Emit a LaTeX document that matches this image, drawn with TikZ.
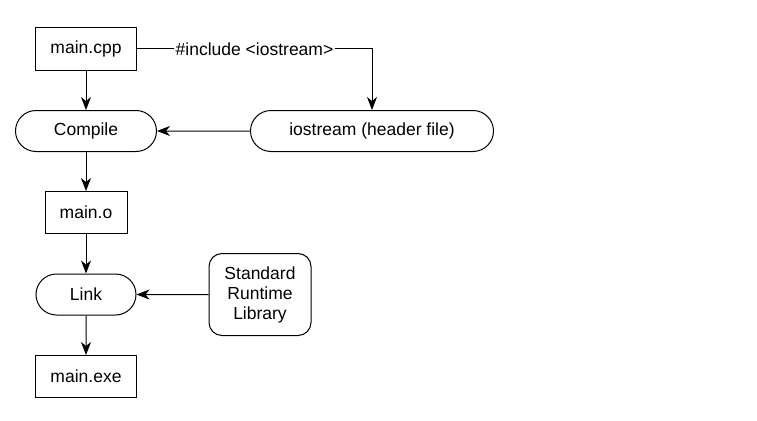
\documentclass[tikz,border=0pt]{standalone}
\usepackage{fontspec}
\setmainfont{Liberation Sans}
\usetikzlibrary{arrows.meta, positioning, shapes.misc}

\begin{document}
\begin{tikzpicture}[
    x=1pt, y=-1pt,
    file/.style={rectangle, draw, line width=1pt, minimum height=42pt, inner sep=0pt},
    tool/.style={rounded rectangle, draw, line width=1pt, minimum height=41pt, inner sep=0pt},
    lib/.style={rectangle, rounded corners=13pt, draw, line width=1pt, minimum width=102pt, minimum height=82pt, align=center, inner sep=0pt},
    link/.style={-{Stealth[length=13pt, width=10pt, inset=4pt]}, line width=1pt},
    every node/.style={font=\fontsize{17.5}{20}\selectfont}
    ]
    \useasboundingbox (0,0) rectangle (757,420);

    % Source file
    \node[file, minimum width=101pt] (cpp) at (86,49) {main.cpp};

    % Compile step
    \node[tool, minimum width=141pt] (compile) at (86,131) {Compile};
    \draw[link] (cpp) -- (compile);

    % Header file
    \node[tool, minimum width=243pt] (header) at (372,131) {iostream (header file)};
    \draw[link] (cpp) -| (header) node[pos=0.25, fill=white, inner sep=2pt] {\#include <iostream>};
    \draw[link] (header) -- (compile);

    % Object file
    \node[file, minimum width=82pt] (obj) at (86,212.5) {main.o};
    \draw[link] (compile) -- (obj);

    % Link step
    \node[tool, minimum width=100pt] (link) at (86,294.5) {Link};
    \draw[link] (obj) -- (link);

    % Runtime library
    \node[lib] (runtime) at (260,294.5) {Standard\\Runtime\\Library};
    \draw[link] (runtime) -- (link);

    % Executable
    \node[file, minimum width=101pt] (exe) at (86,376.5) {main.exe};
    \draw[link] (link) -- (exe);

\end{tikzpicture}
\end{document}
